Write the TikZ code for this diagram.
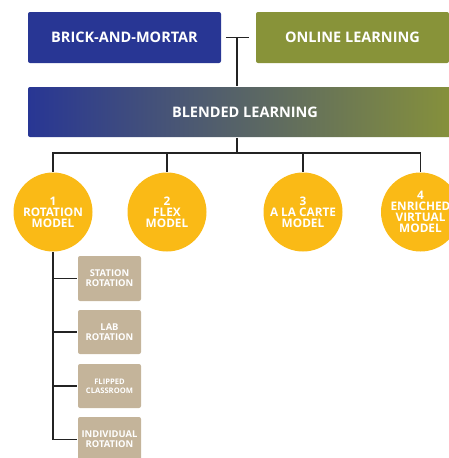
\documentclass[tikz,border=0pt]{standalone}
\usepackage{fontspec}
\setmainfont{Open Sans}
\definecolor{brick}{RGB}{40,54,148}
\definecolor{online}{RGB}{136,147,57}
\definecolor{blendmid}{RGB}{112,109,128}
\definecolor{gold}{RGB}{250,186,22}
\definecolor{tan}{RGB}{196,180,154}
\definecolor{wire}{RGB}{35,35,35}
\begin{document}
\begin{tikzpicture}[x=1pt, y=-1pt, line width=1.5pt, draw=wire,
        box/.style = {rounded corners=2pt, minimum width=193pt, minimum height=51pt, text=white, font=\bfseries\fontsize{14.5}{16}\selectfont},
        main/.style = {circle, fill=gold, minimum size=79pt, inner sep=0pt, text=white, align=center, font=\bfseries\fontsize{11.8}{11}\selectfont},
        sub/.style = {rounded corners=2pt, fill=tan, minimum width=63pt, minimum height=44pt, inner sep=1pt, text=white, align=center, font=\bfseries\fontsize{9.4}{10}\selectfont}]
    \useasboundingbox (0,0) rectangle (448,458);
    % top row
    \node[box, fill=brick] (b) at (124.5,37.5) {BRICK-AND-MORTAR};
    \node[box, fill=online] (o) at (352.5,37.5) {ONLINE LEARNING};
    \node[box, minimum width=434pt, minimum height=50pt, left color=brick, middle color=blendmid, right color=online] (bl) at (245,112) {BLENDED LEARNING};
    \coordinate (j) at (237,37.5);
    \coordinate (bar) at (237,153);
    \draw[shorten <=4pt, shorten >=6pt] (b) -- (o);
    \draw (j) -- (j |- bl.north);
    \draw (j |- bl.south) -- (bar);
    % models
    \node[main] (c1) at (53,212) {1\\ROTATION\\MODEL};
    \node[main] (c2) at (167,212) {2\\FLEX\\MODEL};
    \node[main] (c3) at (303,212) {3\\A LA CARTE\\MODEL};
    \node[main] (c4) at (420.5,212) {4\\ENRICHED\\VIRTUAL\\MODEL};
    \foreach \n in {1,...,4}
        \draw (c\n) |- (bar);
    % rotation types
    \node[sub, minimum height=45pt] (s1) at (109.5,278.5) {STATION\\ROTATION};
    \node[sub] (s2) at (109.5,332) {LAB\\ROTATION};
    \node[sub, font=\bfseries\fontsize{7.6}{9}\selectfont] (s3) at (109.5,386) {FLIPPED\\CLASSROOM};
    \node[sub, minimum height=45pt] (s4) at (109.5,439.5) {INDIVIDUAL\\ROTATION};
    \draw (c1) |- (s4);
    \foreach \n in {1,2,3}
        \draw (c1.south |- s\n) -- (s\n);
\end{tikzpicture}
\end{document}
